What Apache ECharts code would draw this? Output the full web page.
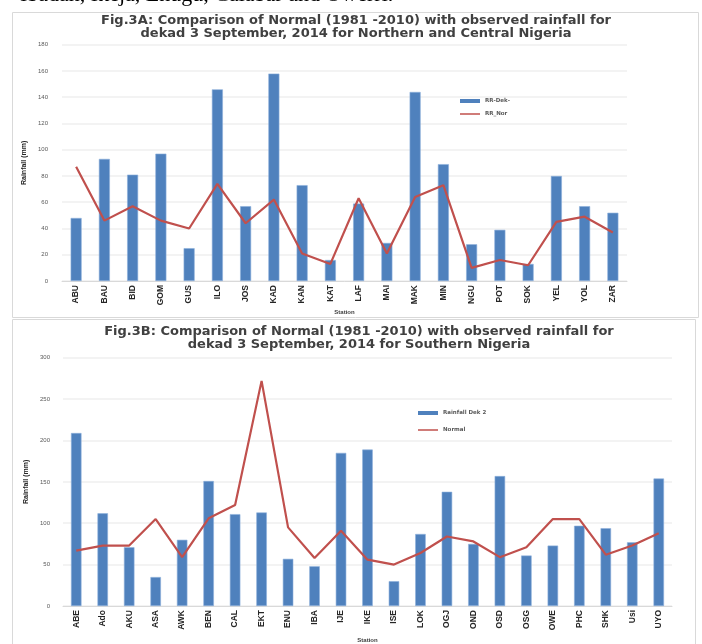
<!DOCTYPE html>
<html><head><meta charset="utf-8">
<script src="https://cdn.jsdelivr.net/npm/echarts@6/dist/echarts.min.js"></script>
<style>html,body{margin:0;padding:0;background:#fff}#c{width:702px;height:644px}</style>
</head><body><div id="c"></div>
<script>
const stationsA = ['ABU','BAU','BID','GOM','GUS','ILO','JOS','KAD','KAN','KAT','LAF','MAI','MAK','MIN','NGU','POT','SOK','YEL','YOL','ZAR'];
const rrDek = [48,93,81,97,25,146,57,158,73,16,59,29,144,89,28,39,13,80,57,52];
const rrNor = [87,46,57,46,40,74,44,62,21,13,63,21,64,73,10,16,12,45,49,37];
const yTicksA = {min:0, max:180, interval:20};

const stationsB = ['ABE','Ado','AKU','ASA','AWK','BEN','CAL','EKT','ENU','IBA','IJE','IKE','ISE','LOK','OGJ','OND','OSD','OSG','OWE','PHC','SHK','Usi','UYO'];
const rainDek2 = [209,112,71,35,80,151,111,113,57,48,185,189,30,87,138,75,157,61,73,97,94,77,154];
const normal = [67,73,73,105,59,106,122,272,95,58,91,56,50,64,84,78,59,71,105,105,62,73,88];
const yTicksB = {min:0, max:300, interval:50};

const chart = echarts.init(document.getElementById('c'));
const BLUE = '#4f81bd', RED = '#c0504d';
const narrow = '"Liberation Sans Narrow","Liberation Sans",Arial,sans-serif';
const sans = '"Liberation Sans",Arial,sans-serif';
function yAx(grid, t){
  return {gridIndex:grid, type:'value', min:t.min, max:t.max, interval:t.interval,
    name:'Rainfall (mm)', nameLocation:'middle', nameRotate:90, nameGap:grid===0?29:30,
    nameTextStyle:{fontFamily:narrow, fontWeight:'bold', fontSize:7, color:'#262626'},
    axisLine:{show:false}, axisTick:{show:false},
    axisLabel:{fontFamily:sans, fontSize:6, color:'#595959', margin:grid===0?14:13},
    splitLine:{lineStyle:{color:'#efefef', width:1.5}}};
}
function xAx(grid, cats){
  return {gridIndex:grid, type:'category', data:cats,
    name:'Station', nameLocation:'middle', nameGap:grid===0?26:31,
    nameTextStyle:{fontFamily:sans, fontWeight:'bold', fontSize:6, color:'#404040'},
    axisLine:{lineStyle:{color:'#d9d9d9'}}, axisTick:{show:false},
    axisLabel:{rotate:90, interval:0, fontFamily:narrow, fontWeight:'bold', fontSize:8.5, color:'#262626', margin:4}};
}
const titleStyle = {fontFamily:'"DejaVu Sans",sans-serif', fontWeight:'bold', fontSize:13, color:'#404040', lineHeight:13};
const legendText = {fontFamily:'"DejaVu Sans",sans-serif', fontWeight:'bold', fontSize:5.5, color:'#595959'};
function lg(left, top, name, h){
  return {orient:'vertical', left:left, top:top, itemWidth:20, itemHeight:h, itemGap:0, itemStyle:{borderWidth:0},
    textStyle:legendText, data:[{name:name, icon:'rect'}]};
}
chart.setOption({
  animation:false,
  graphic:[
    {type:'rect', shape:{x:12.5,y:12.5,width:686,height:305}, style:{fill:'none', stroke:'#d9d9d9', lineWidth:1}},
    {type:'rect', shape:{x:12.5,y:319.5,width:683,height:340}, style:{fill:'none', stroke:'#d9d9d9', lineWidth:1}},
    {type:'text', left:20, top:-16, style:{text:'Ibadan, Ikeja, Enugu, Calabar and Owerri.', font:'22px "Liberation Serif","Times New Roman",serif', fill:'#000'}}
  ],
  title:[
    {text:'Fig.3A: Comparison of Normal (1981 -2010) with observed rainfall for\ndekad 3 September, 2014 for Northern and Central Nigeria', left:351, top:9, textAlign:'center', textStyle:titleStyle},
    {text:'Fig.3B: Comparison of Normal (1981 -2010) with observed rainfall for\ndekad 3 September, 2014 for Southern Nigeria', left:354, top:320, textAlign:'center', textStyle:titleStyle}
  ],
  legend:[
    lg(455, 93, 'RR-Dek-', 4),
    lg(455, 106, 'RR_Nor', 1.5),
    lg(413, 405, 'Rainfall Dek 2', 4),
    lg(413, 422, 'Normal', 1.5)
  ],
  grid:[
    {left:62, right:75, top:44.7, bottom:363},
    {left:63, right:30, top:357.7, bottom:33}
  ],
  xAxis:[xAx(0, stationsA), xAx(1, stationsB)],
  yAxis:[yAx(0, yTicksA), yAx(1, yTicksB)],
  series:[
    {name:'RR-Dek-', type:'bar', xAxisIndex:0, yAxisIndex:0, data:rrDek, barWidth:11,
      itemStyle:{color:BLUE, borderColor:'#8db0dc', borderWidth:0.6}},
    {name:'RR_Nor', type:'line', xAxisIndex:0, yAxisIndex:0, data:rrNor, symbol:'none',
      lineStyle:{color:RED, width:2.2}, itemStyle:{color:RED}},
    {name:'Rainfall Dek 2', type:'bar', xAxisIndex:1, yAxisIndex:1, data:rainDek2, barWidth:10.5,
      itemStyle:{color:BLUE, borderColor:'#8db0dc', borderWidth:0.6}},
    {name:'Normal', type:'line', xAxisIndex:1, yAxisIndex:1, data:normal, symbol:'none',
      lineStyle:{color:RED, width:2.2}, itemStyle:{color:RED}}
  ]
});
</script></body></html>
